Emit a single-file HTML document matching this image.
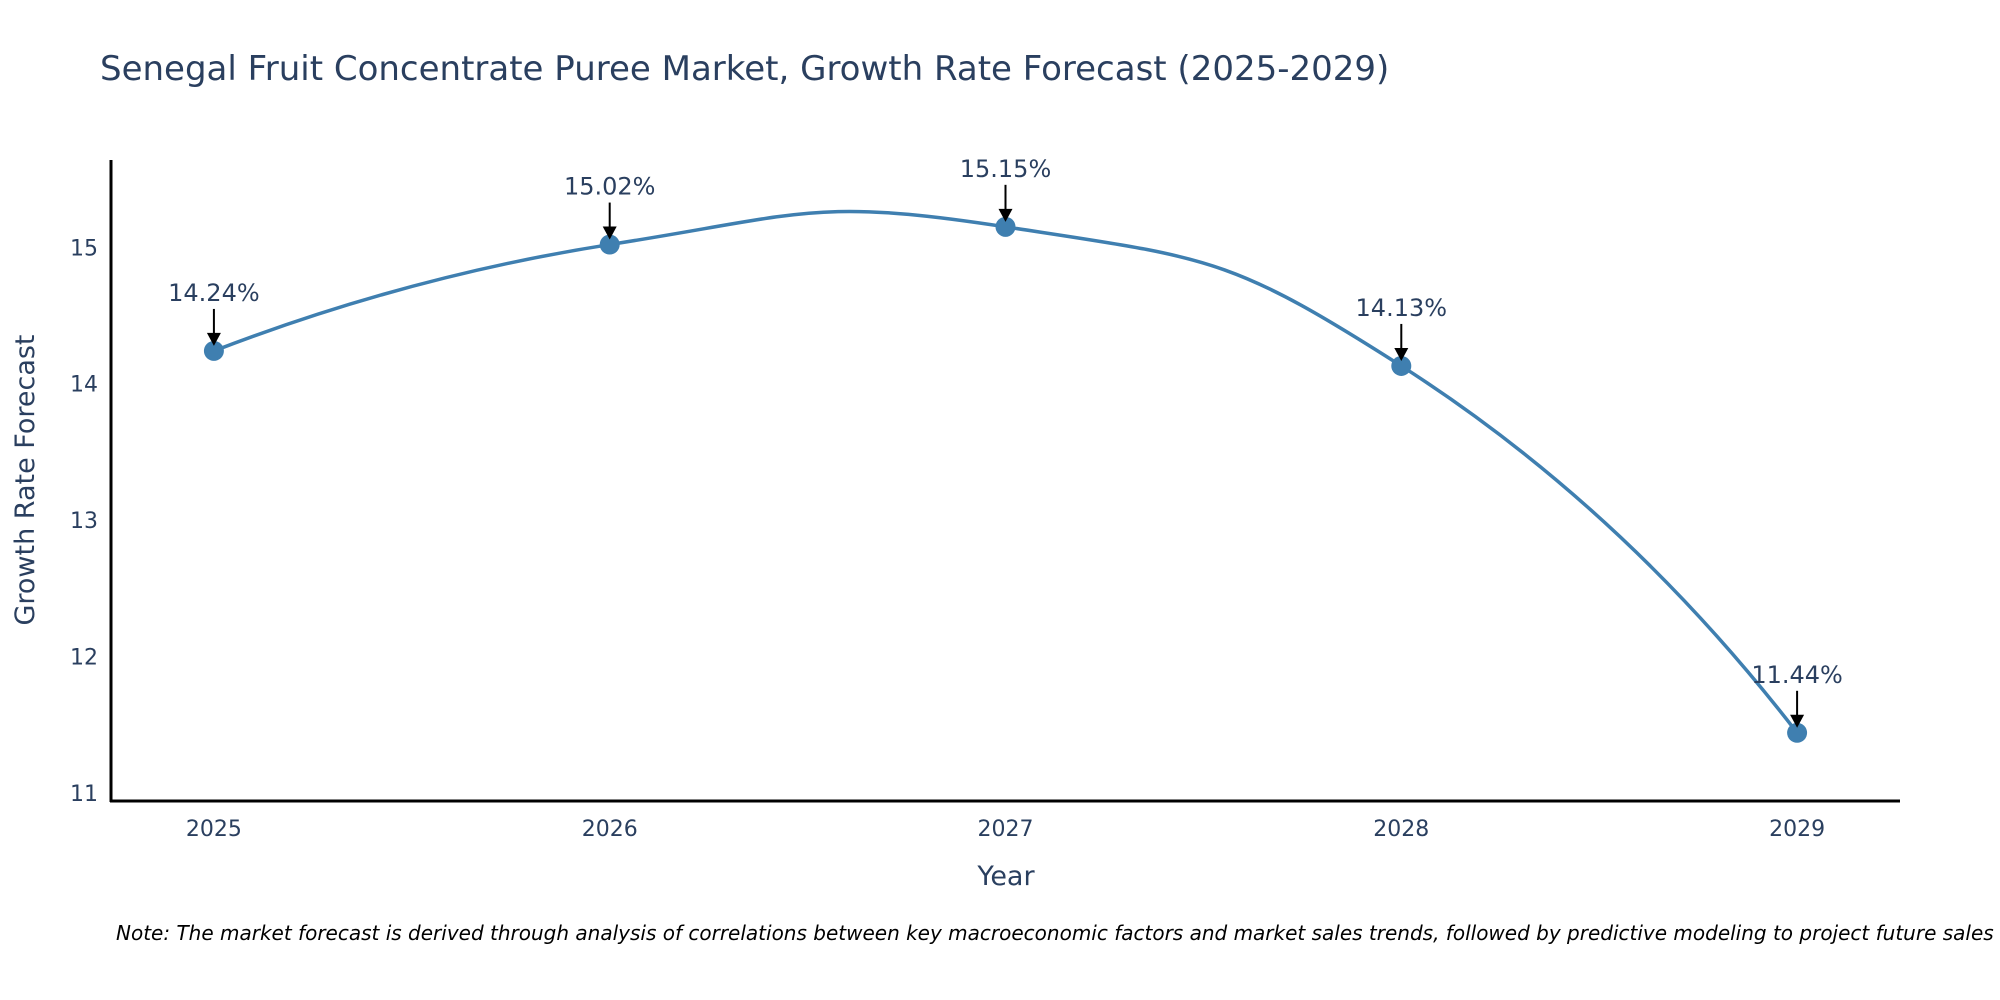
<!DOCTYPE html>
<html><head><meta charset="utf-8"><style>
body{margin:0;background:#fff;}
svg{display:block;font-family:"DejaVu Sans","Liberation Sans",sans-serif;}
</style></head><body>
<svg id="chart" width="2000" height="1000">
<text x="100" y="80" font-size="34" fill="#2a3f5f">Senegal Fruit Concentrate Puree Market, Growth Rate Forecast (2025-2029)</text>
<g id="yticks"></g>
<g id="xticks"></g>
<path id="line" fill="none" stroke="#3f7fb0" stroke-width="3.5"></path>
<g id="points"></g>
<g id="annots"></g>
<line x1="111" y1="160" x2="111" y2="802" stroke="#000" stroke-width="3"/>
<line x1="110" y1="801" x2="1900" y2="801" stroke="#000" stroke-width="3"/>
<text transform="translate(34,480) rotate(-90)" text-anchor="middle" font-size="27" fill="#2a3f5f">Growth Rate Forecast</text>
<text x="1006" y="885" text-anchor="middle" font-size="27" fill="#2a3f5f">Year</text>
<text x="116" y="940" font-size="20" font-style="italic" fill="#000">Note: The market forecast is derived through analysis of correlations between key macroeconomic factors and market sales trends, followed by predictive modeling to project future sales</text>
</svg>
<script>
const years=[2025,2026,2027,2028,2029];
const values=[14.24,15.02,15.15,14.13,11.44];
const labels=["14.24%","15.02%","15.15%","14.13%","11.44%"];
const yTicks=[11,12,13,14,15];
const NS="http://www.w3.org/2000/svg";
const xMin=2024.74,xMax=2029.26,yMin=10.94,yMax=15.64;
const X=v=>111+(v-xMin)/(xMax-xMin)*(1900-111);
const Y=v=>801-(v-yMin)/(yMax-yMin)*(801-160);
function mk(tag,attrs,parent,txt){const e=document.createElementNS(NS,tag);for(const k in attrs)e.setAttribute(k,attrs[k]);if(txt!==undefined)e.textContent=txt;parent.appendChild(e);return e;}
const yt=document.getElementById('yticks');
yTicks.forEach(t=>{const e=mk('text',{x:98,y:Y(t)+8,'text-anchor':'end','font-size':22,fill:'#2a3f5f'},yt,String(t));

});
const xt=document.getElementById('xticks');
years.forEach(t=>{const e=mk('text',{x:X(t),y:836,'text-anchor':'middle','font-size':22,fill:'#2a3f5f'},xt,String(t));

});
const P=years.map((y,i)=>[X(y),Y(values[i])]);
const s=0.5;
const ctrl=P.map((p,i)=>{
  if(i===0||i===P.length-1)return {b:p,a:p};
  const p0=P[i-1],p2=P[i+1];
  const d1=Math.hypot(p[0]-p0[0],p[1]-p0[1]),d2=Math.hypot(p2[0]-p[0],p2[1]-p[1]);
  const tx=p2[0]-p0[0],ty=p2[1]-p0[1];
  return {b:[p[0]-tx*s*d1/(d1+d2),p[1]-ty*s*d1/(d1+d2)],a:[p[0]+tx*s*d2/(d1+d2),p[1]+ty*s*d2/(d1+d2)]};
});
let d=`M${P[0][0]},${P[0][1]}`;
for(let i=0;i<P.length-1;i++){
  let c1=ctrl[i].a,c2=ctrl[i+1].b;
  if(i===0){d+=` Q${c2[0]},${c2[1]} ${P[1][0]},${P[1][1]}`;continue;}
  if(i===P.length-2){d+=` Q${c1[0]},${c1[1]} ${P[i+1][0]},${P[i+1][1]}`;continue;}
  d+=` C${c1[0]},${c1[1]} ${c2[0]},${c2[1]} ${P[i+1][0]},${P[i+1][1]}`;
}
document.getElementById('line').setAttribute('d',d);
const pts=document.getElementById('points'),an=document.getElementById('annots');
P.forEach((p,i)=>{
const c=mk('circle',{cx:p[0],cy:p[1],r:10,fill:'#3f7fb0'},pts);


const l=mk('line',{x1:p[0],y1:p[1]-42,x2:p[0],y2:p[1]-16,stroke:'#000','stroke-width':2},an);


const h=mk('polygon',{points:`${p[0]-7},${p[1]-18} ${p[0]+7},${p[1]-18} ${p[0]},${p[1]-5}`,fill:'#000'},an);


const t=mk('text',{x:p[0],y:p[1]-50,'text-anchor':'middle','font-size':24,fill:'#2a3f5f'},an,labels[i]);


});
</script>
</body></html>
